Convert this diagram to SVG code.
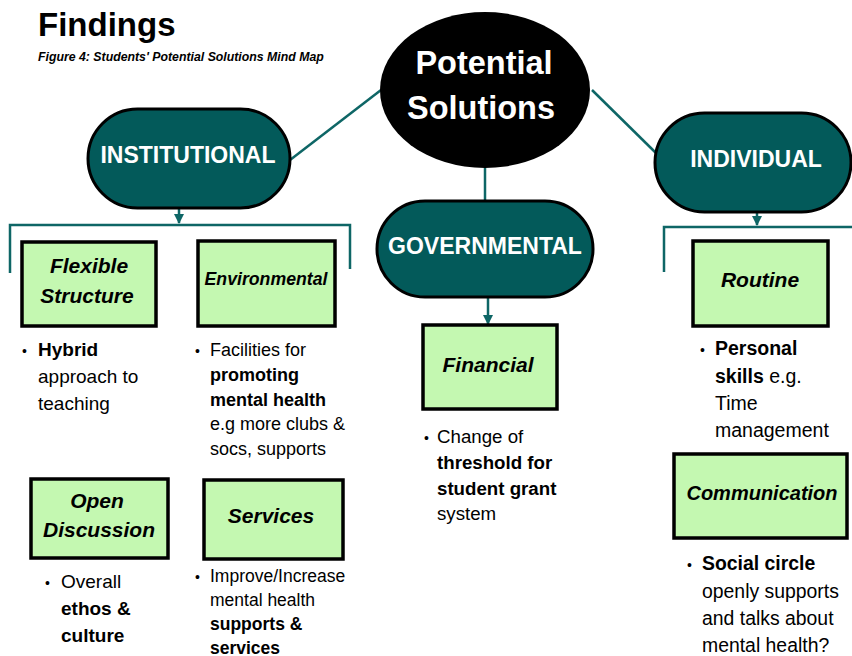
<svg xmlns="http://www.w3.org/2000/svg" width="852" height="656" viewBox="0 0 852 656">
<defs>
<style>
text{font-family:"Liberation Sans",Arial,sans-serif;fill:#000}
.pill{fill:#035a5a;stroke:#000;stroke-width:3}
.pt{fill:#fff;font-weight:bold;font-size:23px;text-anchor:middle}
.box{fill:#c4f8b1;stroke:#000;stroke-width:3.5}
.bt{font-weight:bold;font-style:italic;font-size:21px;text-anchor:middle}
.con{stroke:#0e6666;stroke-width:2.5;fill:none}
.b{font-weight:bold}
.t19{font-size:19px}
.t18{font-size:18px}
.t17{font-size:17.5px}
.dot{font-size:14px}
</style>
<marker id="ah" viewBox="0 0 10 10" refX="9" refY="5" markerWidth="4" markerHeight="4" orient="auto" markerUnits="strokeWidth">
<path d="M0,0 L10,5 L0,10 z" fill="#0e6666"/>
</marker>
</defs>
<rect width="852" height="656" fill="#fff"/>
<text x="38" y="36" style="font-size:33px;font-weight:bold">Findings</text>
<text x="38" y="61" style="font-size:12.3px;font-weight:bold;font-style:italic">Figure 4: Students' Potential Solutions Mind Map</text>

<g id="connectors">
<line class="con" x1="381" y1="90" x2="290" y2="160"/>
<line class="con" x1="592" y1="90" x2="656" y2="153"/>
<line class="con" x1="485" y1="168" x2="485" y2="201"/>
<line class="con" x1="179" y1="208" x2="179" y2="223" marker-end="url(#ah)"/>
<polyline class="con" points="10,273 10,225 350,225 350,269"/>
<line class="con" x1="488" y1="297" x2="488" y2="324" marker-end="url(#ah)"/>
<line class="con" x1="757" y1="212" x2="757" y2="225" marker-end="url(#ah)"/>
<polyline class="con" points="664,272 664,227 852,227"/>
</g>

<g id="root">
<ellipse cx="485" cy="90" rx="105" ry="78" fill="#000"/>
<text x="484" y="74" style="fill:#fff;font-weight:bold;font-size:32.5px;text-anchor:middle">Potential</text>
<text x="481" y="119" style="fill:#fff;font-weight:bold;font-size:32.5px;text-anchor:middle">Solutions</text>
</g>

<g id="institutional">
<rect class="pill" x="88" y="109" width="202" height="99" rx="49.5"/>
<text class="pt" x="188" y="163">INSTITUTIONAL</text>
</g>
<g id="governmental">
<rect class="pill" x="377" y="201" width="216" height="96" rx="48"/>
<text class="pt" x="485" y="254">GOVERNMENTAL</text>
</g>
<g id="individual">
<rect class="pill" x="655" y="113" width="196" height="99" rx="49.5"/>
<text class="pt" x="756" y="167">INDIVIDUAL</text>
</g>

<g id="flexible">
<rect class="box" x="22" y="242" width="134" height="84"/>
<text class="bt" x="89" y="273">Flexible</text>
<text class="bt" x="87" y="303">Structure</text>
<text class="dot" x="22" y="356">•</text>
<text class="t19" x="38"><tspan x="38" y="356" class="b">Hybrid</tspan><tspan x="38" y="383">approach to</tspan><tspan x="38" y="410">teaching</tspan></text>
</g>

<g id="environmental">
<rect class="box" x="198" y="241" width="137" height="85"/>
<text class="bt" x="266" y="285" style="font-size:17.7px">Environmental</text>
<text class="dot" x="195" y="356">•</text>
<text class="t18"><tspan x="210" y="356">Facilities for</tspan><tspan x="210" y="381" class="b">promoting</tspan><tspan x="210" y="405.5" class="b">mental health</tspan><tspan x="210" y="430">e.g more clubs &amp;</tspan><tspan x="210" y="454.5">socs, supports</tspan></text>
</g>

<g id="open-discussion">
<rect class="box" x="31" y="479" width="137" height="79"/>
<text class="bt" x="97" y="508">Open</text>
<text class="bt" x="99" y="537">Discussion</text>
<text class="dot" x="45" y="588">•</text>
<text class="t19"><tspan x="61" y="588">Overall</tspan><tspan x="61" y="615" class="b">ethos &amp;</tspan><tspan x="61" y="642" class="b">culture</tspan></text>
</g>

<g id="services">
<rect class="box" x="204" y="480" width="139" height="79"/>
<text class="bt" x="271" y="523">Services</text>
<text class="dot" x="195" y="582">•</text>
<text class="t17"><tspan x="210" y="582">Improve/Increase</tspan><tspan x="210" y="606">mental health</tspan><tspan x="210" y="630" class="b">supports &amp;</tspan><tspan x="210" y="653.5" class="b">services</tspan></text>
</g>

<g id="financial">
<rect class="box" x="423" y="325" width="134" height="84"/>
<text class="bt" x="488" y="372">Financial</text>
<text class="dot" x="424" y="443">•</text>
<text style="font-size:18.7px"><tspan x="437" y="443">Change of</tspan><tspan x="437" y="469" class="b">threshold for</tspan><tspan x="437" y="495" class="b">student grant</tspan><tspan x="437" y="520">system</tspan></text>
</g>

<g id="routine">
<rect class="box" x="693" y="241" width="135" height="85"/>
<text class="bt" x="760" y="287">Routine</text>
<text class="dot" x="700" y="355">•</text>
<text style="font-size:19.5px"><tspan x="715" y="355" class="b">Personal</tspan><tspan x="715" y="383"><tspan class="b">skills</tspan> e.g.</tspan><tspan x="715" y="410">Time</tspan><tspan x="715" y="437">management</tspan></text>
</g>

<g id="communication">
<rect class="box" x="674" y="454" width="173" height="84"/>
<text class="bt" x="762" y="500" style="font-size:20px">Communication</text>
<text class="dot" x="687" y="570">•</text>
<text style="font-size:19.4px"><tspan x="702" y="570" class="b">Social circle</tspan><tspan x="702" y="598">openly supports</tspan><tspan x="702" y="625">and talks about</tspan><tspan x="702" y="652">mental health?</tspan></text>
</g>
</svg>
